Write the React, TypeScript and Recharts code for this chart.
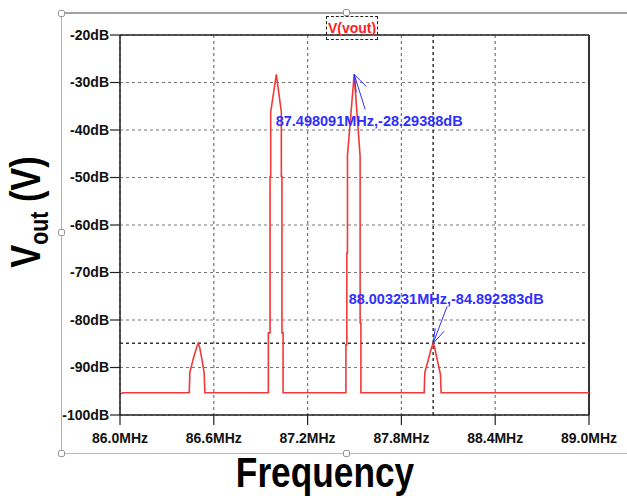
import React from "react";
import {
  LineChart,
  Line,
  XAxis,
  YAxis,
  CartesianGrid,
  ReferenceLine,
  ReferenceDot,
} from "recharts";

// ---- data ----
const freqMHz = [
  86.0, 86.02, 86.443, 86.447, 86.47, 86.49, 86.5, 86.51, 86.525, 86.538, 86.543,
  86.949, 86.949, 86.96, 86.96, 86.964, 86.964, 87.0, 87.032, 87.032, 87.036, 87.036, 87.043, 87.043,
  87.445, 87.445, 87.451, 87.451, 87.455, 87.455, 87.498, 87.536, 87.536, 87.541, 87.541,
  87.946, 87.95, 87.975, 87.993, 88.003, 88.013, 88.03, 88.05, 88.054, 89.0,
];
const levelDb = [
  -95.6, -95.3, -95.3, -91.0, -88.0, -85.8, -84.9, -85.8, -88.5, -91.0, -95.3,
  -95.3, -82.7, -82.7, -49.8, -49.8, -36.2, -28.3, -36.2, -49.8, -49.8, -82.7, -82.7, -95.3,
  -95.3, -85.2, -85.2, -65.9, -65.9, -45.3, -28.29, -45.6, -80.6, -80.6, -95.3,
  -95.3, -91.0, -88.0, -85.8, -84.89, -85.8, -88.5, -91.5, -95.3, -95.3,
];
const xTicks = [86.0, 86.6, 87.2, 87.8, 88.4, 89.0];
const yTicks = [-20, -30, -40, -50, -60, -70, -80, -90, -100];
const cursorFreq = [87.498091, 88.003231];
const cursorDb = [-28.29388, -84.892383];
const cursorText = ["87.498091MHz,-28.29388dB", "88.003231MHz,-84.892383dB"];
const seriesName = "V(vout)";

const data = freqMHz.map((f, i) => ({ f, db: levelDb[i] }));

const BLUE = "#2f2fff";
const SANS = "'Liberation Sans', Arial, sans-serif";

const ArrowLabel1 = (props: any) => {
  const { cx, cy } = props;
  return (
    <g>
      <line x1={cx} y1={cy} x2={cx + 11} y2={cy + 35} stroke={BLUE} strokeWidth={1} />
      <line x1={cx} y1={cy} x2={cx + 12} y2={cy + 12} stroke={BLUE} strokeWidth={1} />
      <line x1={cx} y1={cy} x2={cx + 2} y2={cy + 18} stroke={BLUE} strokeWidth={1} />
      <text x={cx + 15} y={cy + 52} textAnchor="middle" fill={BLUE} fontFamily={SANS} fontWeight="bold" fontSize={14.5}>
        {cursorText[0]}
      </text>
    </g>
  );
};

const ArrowLabel2 = (props: any) => {
  const { cx, cy } = props;
  return (
    <g>
      <line x1={cx} y1={cy} x2={cx + 14} y2={cy - 37} stroke={BLUE} strokeWidth={1} />
      <line x1={cx} y1={cy} x2={cx + 11} y2={cy - 12} stroke={BLUE} strokeWidth={1} />
      <line x1={cx} y1={cy} x2={cx + 2} y2={cy - 15} stroke={BLUE} strokeWidth={1} />
      <text x={cx + 13} y={cy - 39} textAnchor="middle" fill={BLUE} fontFamily={SANS} fontWeight="bold" fontSize={14.5}>
        {cursorText[1]}
      </text>
    </g>
  );
};

const YLabel = () => (
  <text
    transform="translate(40, 212) rotate(-90) scale(0.82, 1)"
    textAnchor="middle"
    fontFamily={SANS}
    fontWeight="bold"
    fontSize={42}
    fill="#000"
  >
    V
    <tspan fontSize={26} dy={8}>out</tspan>
    <tspan dy={-8}> (V)</tspan>
  </text>
);

const XLabel = () => (
  <text
    transform="translate(325, 487) scale(0.82, 1)"
    textAnchor="middle"
    fontFamily={SANS}
    fontWeight="bold"
    fontSize={43}
    fill="#000"
  >
    Frequency
  </text>
);

const handle = (left: number, top: number): React.CSSProperties => ({
  position: "absolute",
  left: left - 3,
  top: top - 3,
  width: 5,
  height: 5,
  border: "1px solid #9a9a9a",
  borderRadius: 2,
  background: "#fff",
});

export default function App() {
  const tickStyle = {
    fontFamily: SANS,
    fontWeight: "bold" as const,
    fontSize: 14,
    fill: "#111",
  };
  return (
    <div
      style={{
        position: "absolute",
        left: 0,
        top: 0,
        width: 627,
        height: 498,
        background: "#fff",
        overflow: "hidden",
      }}
    >
      {/* picture frame decoration */}
      <div style={{ position: "absolute", left: 61, top: 12, width: 566, height: 2, background: "#a0a0a0" }} />
      <div style={{ position: "absolute", left: 61, top: 12, width: 1, height: 441, background: "#b0b0b0" }} />
      <div style={{ position: "absolute", left: 61, top: 453, width: 566, height: 1, background: "#b8b8b8" }} />

      <LineChart
        width={627}
        height={498}
        data={data}
        margin={{ top: 35, right: 38, bottom: 0, left: 0 }}
        style={{ position: "absolute", left: 0, top: 0 }}
      >
        <CartesianGrid stroke="#777" strokeDasharray="3 3" strokeWidth={1.2} />
        <XAxis
          dataKey="f"
          type="number"
          domain={[86, 89]}
          ticks={xTicks}
          interval={0}
          tickFormatter={(v: number) => `${v.toFixed(1)}MHz`}
          tickSize={10}
          tickMargin={8}
          height={83}
          axisLine={{ stroke: "#222", strokeWidth: 1.5 }}
          tickLine={{ stroke: "#222", strokeWidth: 1.2 }}
          tick={tickStyle}
          label={{ content: XLabel }}
        />
        <YAxis
          dataKey="db"
          type="number"
          domain={[-100, -20]}
          ticks={yTicks}
          interval={0}
          tickFormatter={(v: number) => `${v}dB`}
          tickSize={10}
          tickMargin={1}
          width={120}
          axisLine={{ stroke: "#222", strokeWidth: 1.5 }}
          tickLine={{ stroke: "#222", strokeWidth: 1.2 }}
          tick={tickStyle}
          label={{ content: YLabel }}
        />
        <ReferenceLine y={-20} stroke="#222" strokeWidth={1.5} />
        <ReferenceLine x={89} stroke="#333" strokeWidth={2} />
        <ReferenceLine x={cursorFreq[1]} stroke="#333" strokeDasharray="3 3" strokeWidth={1.5} />
        <ReferenceLine y={cursorDb[1]} stroke="#333" strokeDasharray="3 3" strokeWidth={1.5} />
        <Line
          dataKey="db"
          name={seriesName}
          type="linear"
          stroke="#f03a3a"
          strokeWidth={1.6}
          dot={false}
          isAnimationActive={false}
        />
        <ReferenceDot x={cursorFreq[0]} y={cursorDb[0]} r={0} shape={ArrowLabel1} />
        <ReferenceDot x={cursorFreq[1]} y={cursorDb[1]} r={0} shape={ArrowLabel2} />
      </LineChart>

      {/* series title */}
      <div
        style={{
          position: "absolute",
          left: 326,
          top: 16,
          width: 50,
          height: 22,
          border: "1px dashed #222",
          color: "#ff1e1e",
          fontFamily: SANS,
          fontWeight: "bold",
          fontSize: 14,
          lineHeight: "22px",
          textAlign: "center",
          whiteSpace: "nowrap",
        }}
      >
        {seriesName}
      </div>

      <div style={handle(61, 13)} />
      <div style={handle(346, 12)} />
      <div style={handle(61, 232)} />
      <div style={handle(61, 453)} />
      <div style={handle(346, 453)} />
    </div>
  );
}
